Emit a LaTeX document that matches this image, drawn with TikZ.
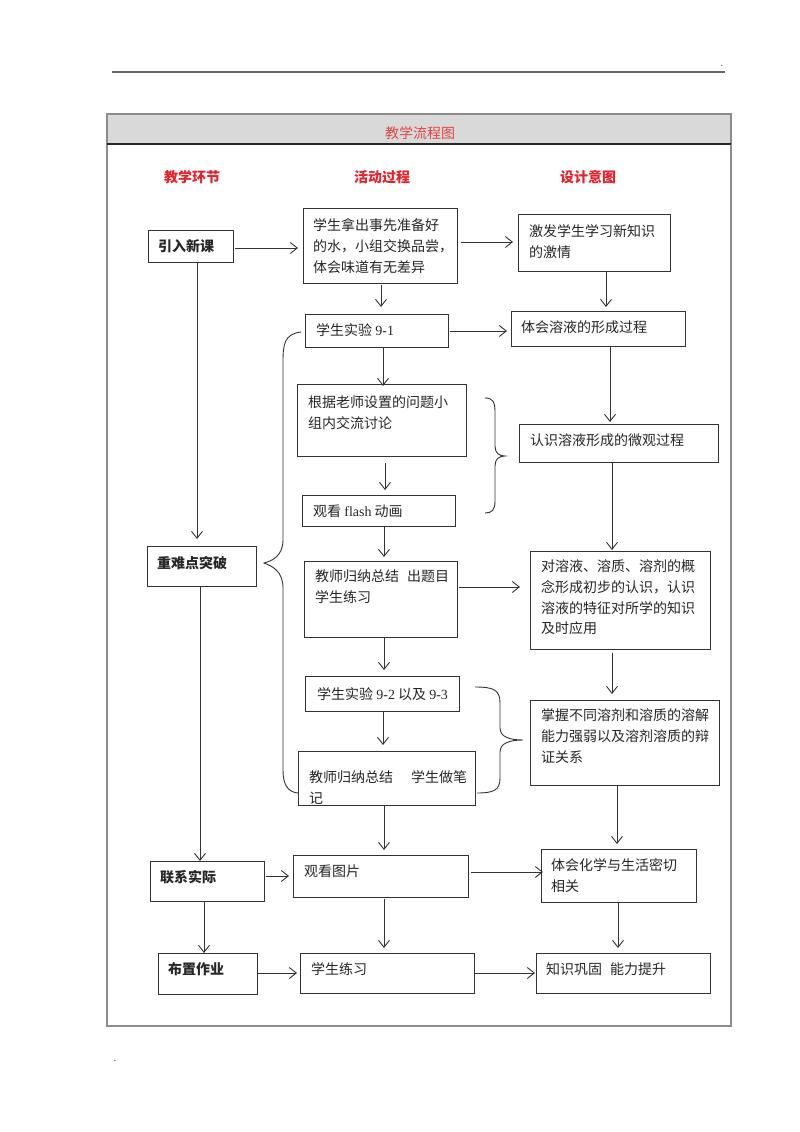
\documentclass[tikz,border=0pt]{standalone}
\usepackage{fontspec}
\setmainfont{Liberation Serif}
\newfontfamily\cjk{Noto Sans CJK SC}
\newfontfamily\lat{Liberation Serif}
\usetikzlibrary{arrows.meta,calc}
\definecolor{ln}{HTML}{333333}
\definecolor{hred}{HTML}{E8202A}
\definecolor{tred}{HTML}{E04545}
\newcommand\flowbox[8]{%
  \node[bx, minimum width={(#4)-(#2)}, minimum height={(#5)-(#3)}, anchor=north west] (#1) at (#2,#3) {};
  \node[tx, anchor=north west] (#1t) at (#6,#7-6.3) {#8};}
\begin{document}
\begin{tikzpicture}[x=1pt,y=-1pt,
  bx/.style={draw=ln, line width=1pt, inner sep=0pt, outer sep=0pt, fill=white},
  tx/.style={inner sep=0pt, align=left, font=\cjk\fontsize{14}{20.7}\selectfont, text=black!85},
  hd/.style={inner sep=0pt, font=\cjk\bfseries\fontsize{14}{16}\selectfont, text=hred},
  arr/.style={draw=ln, line width=0.9pt, -{Straight Barb[length=7pt,width=11pt]}},
  brc/.style={draw=ln, line width=0.9pt}]
\useasboundingbox (0,0) rectangle (800,1132);
% page rule and dots
\draw[black!60, line width=1.6pt] (112,72) -- (725,72);
\node[inner sep=0pt, font=\small] (dotA) at (722,66) {.};
\node[inner sep=0pt, font=\small] (dotB) at (115,1061) {.};
% frame
\fill[black!15] (107,114) rectangle (731,144);
\draw[black!45, line width=1.3pt] (107,114) rectangle (731,1026);
\draw[black!85, line width=1.2pt] (107,144) -- (731,144);
\node[inner sep=0pt, font=\cjk\fontsize{14}{16}\selectfont, text=tred] (title) at (420,133) {教学流程图};
\node[hd] (h1) at (192,177) {教学环节};
\node[hd] (h2) at (382,177) {活动过程};
\node[hd] (h3) at (588,177) {设计意图};
% left column
\flowbox{yx}{148}{230}{233}{262}{158}{246}{\bfseries 引入新课}
\flowbox{zn}{147}{546}{256}{586}{157}{563}{\bfseries 重难点突破}
\flowbox{lx}{150}{861}{264}{901}{160}{876}{\bfseries 联系实际}
\flowbox{bz}{158}{953}{257}{994}{168}{969}{\bfseries 布置作业}
% middle column
\flowbox{a1}{303}{208}{457}{283}{313}{225}{学生拿出事先准备好\\的水，小组交换品尝，\\体会味道有无差异}
\flowbox{a2}{305}{314}{448}{347}{316}{330}{学生实验 {\lat 9-1}}
\flowbox{a3}{297}{384}{466}{456}{308}{402}{根据老师设置的问题小\\组内交流讨论}
\flowbox{a4}{302}{495}{455}{526}{313}{511}{观看 {\lat flash} 动画}
\flowbox{a5}{304}{561}{457}{637}{315}{576}{教师归纳总结\hspace{8pt}出题目\\学生练习}
\flowbox{a6}{305}{676}{459}{711}{317}{694}{学生实验 {\lat 9-2} 以及 {\lat 9-3}}
\flowbox{a7}{298}{751}{475}{805}{309}{777}{教师归纳总结\hspace{18pt}学生做笔\\记}
\flowbox{a8}{293}{855}{468}{897}{304}{871}{观看图片}
\flowbox{a9}{300}{953}{474}{993}{311}{969}{学生练习}
% right column
\flowbox{d1}{518}{214}{670}{271}{529}{231}{激发学生学习新知识\\的激情}
\flowbox{d2}{511}{311}{685}{346}{521}{327}{体会溶液的形成过程}
\flowbox{d3}{519}{424}{718}{462}{530}{440}{认识溶液形成的微观过程}
\flowbox{d5}{530}{551}{710}{649}{541}{566}{对溶液、溶质、溶剂的概\\念形成初步的认识，认识\\溶液的特征对所学的知识\\及时应用}
\flowbox{d6}{530}{700}{719}{785}{541}{715}{掌握不同溶剂和溶质的溶解\\能力强弱以及溶剂溶质的辩\\证关系}
\flowbox{d8}{541}{849}{696}{902}{551}{865}{体会化学与生活密切\\相关}
\flowbox{d9}{536}{953}{710}{993}{546}{969}{知识巩固\hspace{8pt}能力提升}
% left column arrows
\draw[arr] (yx.south -| 197,0) -- ([yshift=7pt]zn.north -| 197,0);
\draw[arr] (zn.south -| 200,0) -- (lx.north -| 200,0);
\draw[arr] (lx.south -| 204,0) -- (bz.north -| 204,0);
% middle column arrows
\draw[arr] ([yshift=-2pt]a1.south -| 381,0) -- ([yshift=7pt]a2.north -| 381,0);
\draw[arr] (a2.south -| 383,0) -- ([yshift=-2pt]a3.north -| 383,0);
\draw[arr] ([yshift=-7pt]a3.south -| 385,0) -- ([yshift=5pt]a4.north -| 385,0);
\draw[arr] (a4.south -| 384,0) -- ([yshift=4pt]a5.north -| 384,0);
\draw[arr] (a5.south -| 384,0) -- ([yshift=6pt]a6.north -| 384,0);
\draw[arr] (a6.south -| 383,0) -- ([yshift=6pt]a7.north -| 383,0);
\draw[arr] (a7.south -| 384,0) -- ([yshift=5pt]a8.north -| 384,0);
\draw[arr] ([yshift=-2pt]a8.south -| 384,0) -- ([yshift=5pt]a9.north -| 384,0);
% right column arrows
\draw[arr] (d1.south -| 606,0) -- ([yshift=4pt]d2.north -| 606,0);
\draw[arr] (d2.south -| 610,0) -- ([yshift=2pt]d3.north -| 610,0);
\draw[arr] (d3.south -| 612,0) -- ([yshift=1pt]d5.north -| 612,0);
\draw[arr] ([yshift=-4pt]d5.south -| 612,0) -- ([yshift=6pt]d6.north -| 612,0);
\draw[arr] (d6.south -| 617,0) -- ([yshift=5pt]d8.north -| 617,0);
\draw[arr] (d8.south -| 618,0) -- ([yshift=5pt]d9.north -| 618,0);
% horizontal arrows
\draw[arr] ([xshift=2pt]yx.east |- 0,248) -- ([xshift=-5pt]a1.west |- 0,248);
\draw[arr] ([xshift=4pt]a1.east |- 0,242) -- ([xshift=-5pt]d1.west |- 0,242);
\draw[arr] ([xshift=2pt]a2.east |- 0,331) -- ([xshift=-4pt]d2.west |- 0,331);
\draw[arr] ([xshift=2pt]a5.east |- 0,587) -- ([xshift=-10pt]d5.west |- 0,587);
\draw[arr] ([xshift=2pt]lx.east |- 0,876) -- ([xshift=-4pt]a8.west |- 0,876);
\draw[arr] ([xshift=3pt]a8.east |- 0,872) -- ([xshift=2pt]d8.west |- 0,872);
\draw[arr] (bz.east |- 0,973) -- ([xshift=-3pt]a9.west |- 0,973);
\draw[arr] (a9.east |- 0,973) -- ([xshift=-1pt]d9.west |- 0,973);
% braces
\coordinate (lbT) at (301,332);
\coordinate (lbP) at (264,563);
\coordinate (lbB) at (298,793);
\draw[brc] (lbT) .. controls (284,334) and (283,345) .. (283,362) -- (283,540)
  .. controls (283,556) and (272,561) .. (lbP)
  .. controls (272,566) and (283,571) .. (283,588) -- (283,770)
  .. controls (283,785) and (288,792) .. (lbB);
\coordinate (rbT) at (485,398);
\coordinate (rbP) at (505,456);
\coordinate (rbB) at (485,513);
\draw[brc] (rbT) .. controls (493,398) and (495,402) .. (495,412) -- (495,446)
  .. controls (495,453) and (499,456) .. (rbP)
  .. controls (499,456) and (495,459) .. (495,466) -- (495,501)
  .. controls (495,510) and (492,513) .. (rbB);
\coordinate (rcT) at (475,687);
\coordinate (rcP) at (523,740);
\coordinate (rcB) at (477,793);
\draw[brc] (rcT) .. controls (494,687) and (500,690) .. (500,703) -- (500,728)
  .. controls (500,737) and (510,740) .. (rcP)
  .. controls (510,740) and (500,743) .. (500,752) -- (500,778)
  .. controls (500,790) and (494,793) .. (rcB);
\end{tikzpicture}
\end{document}
